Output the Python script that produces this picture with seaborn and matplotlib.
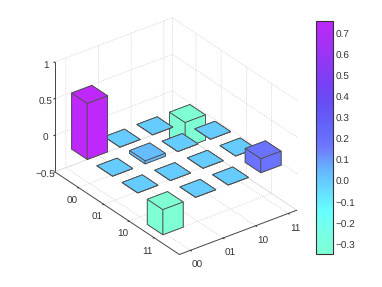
import numpy as np
import seaborn as sns
import matplotlib
matplotlib.use('Agg')
import matplotlib.pyplot as plt
from mpl_toolkits.mplot3d import Axes3D  # noqa

# --- Data ---
tick_labels = ['00', '01', '10', '11']
row_00 = [0.765, 0.0, 0.0, -0.343]
row_01 = [0.0, 0.04, 0.0, 0.0]
row_10 = [0.0, 0.0, 0.0, 0.0]
row_11 = [-0.343, 0.0, 0.0, 0.19]
base_z = -0.05
z_ticks = [-0.5, 0, 0.5, 1]
z_tick_labels = ['\u22120.5', '0', '0.5', '1']
cbar_ticks = [-0.3, -0.2, -0.1, 0, 0.1, 0.2, 0.3, 0.4, 0.5, 0.6, 0.7]
cmap_colors = ['#7fffd4', '#78ffe6', '#66ffff', '#66dcff', '#66b4ff', '#6e78ff',
               '#6464fa', '#6650f5', '#7840f5', '#9038f5', '#a830f5', '#be28fa']
vmin, vmax = -0.343, 0.765
x_lim = (-0.94, 4.0)
y_lim = (-0.34, 3.26)
z_lim = (-0.5, 1)

sns.set_style('white')
plt.rcParams['font.family'] = ['Liberation Sans', 'DejaVu Sans']
plt.rcParams['font.size'] = 7
plt.rcParams['text.hinting'] = 'none'

cmap = sns.blend_palette(cmap_colors, as_cmap=True)
norm = plt.Normalize(vmin, vmax)

heights = np.array([row_00, row_01, row_10, row_11])
ix, iy = np.meshgrid(np.arange(4), np.arange(4), indexing='ij')
width = 0.62
xpos = ix.ravel() - width / 2
ypos = iy.ravel() - width / 2
dz = heights.ravel()
colors = cmap(norm(dz))

fig = plt.figure(figsize=(3.82, 2.87), dpi=100)
ax = fig.add_axes([11.5 / 382, 3.5 / 287, 0.84, 1.0], projection='3d', proj_type='ortho')
ax.view_init(elev=30, azim=-37)
ax.set_box_aspect((204, 145, 125), zoom=0.96)

ax.bar3d(xpos, ypos, np.full_like(dz, base_z), width, width, dz, color=colors,
         shade=False, edgecolor='#505050', linewidth=0.6, zsort='average')

ax.set_xlim(*x_lim)
ax.set_ylim(*y_lim)
ax.set_zlim(*z_lim)
ax.set_xticks(range(4), tick_labels)
ax.set_yticks(range(4), tick_labels)
ax.set_zticks(z_ticks, z_tick_labels)
ax.tick_params(labelsize=7.2, pad=-2, colors='#333333')
ax.tick_params(axis='z', pad=-4)

for axis in (ax.xaxis, ax.yaxis, ax.zaxis):
    axis.set_pane_color((1, 1, 1, 0))
    axis.pane.set_edgecolor((1, 1, 1, 0))
    axis.line.set_color('#444444')
    axis.line.set_linewidth(0.7)
    axis._axinfo['grid'].update(color='#c4c4c4', linestyle=':', linewidth=0.55)
    axis._axinfo['tick'].update(inward_factor=0.1, outward_factor=0.0)
ax.zaxis.set_ticks_position('lower')

# dotted outline of the back walls
dots = dict(color='#c4c4c4', linestyle=':', linewidth=0.55, zorder=0)
ax.plot([x_lim[0], x_lim[0]], [y_lim[1], y_lim[1]], z_lim, **dots)
ax.plot(x_lim, [y_lim[1], y_lim[1]], [z_lim[0], z_lim[0]], **dots)
ax.plot([x_lim[0], x_lim[0]], y_lim, [z_lim[0], z_lim[0]], **dots)

cax = fig.add_axes([316 / 382, 1 - 254 / 287, 17 / 382, 233.5 / 287])
sm = plt.cm.ScalarMappable(norm=norm, cmap=cmap)
cb = fig.colorbar(sm, cax=cax, ticks=cbar_ticks)
cb.ax.tick_params(labelsize=7.2, length=2, width=0.5, pad=2, colors='#333333', direction='in')
cb.outline.set_linewidth(0.8)
cb.outline.set_edgecolor('#333333')

fig.savefig('out.png', dpi=100)
